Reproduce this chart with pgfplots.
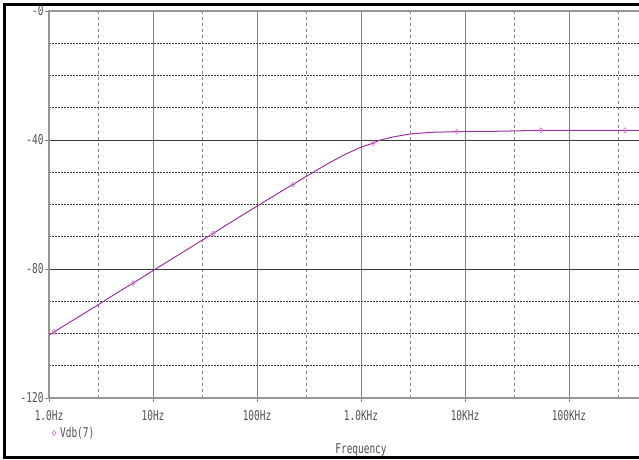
\documentclass[border=0pt]{standalone}
\usepackage{fontspec}
\setmainfont{DejaVu Sans Mono}[FakeStretch=0.7]
\usepackage{pgfplots}
\pgfplotsset{compat=1.18}
\definecolor{trace}{RGB}{160,50,160}
\definecolor{tracemark}{RGB}{215,120,215}
\definecolor{labelgray}{RGB}{80,80,80}
\definecolor{boxgray}{RGB}{150,150,150}
\definecolor{decgray}{RGB}{130,130,130}
\definecolor{majgray}{RGB}{60,60,60}

% Vdb(7) response, frequency in Hz
\pgfplotstableread{
f        vdb
1        -100.5
1.12     -99.5
2        -94.5
3        -91.0
5        -86.5
6.42     -84.4
10       -80.5
20       -74.5
30       -71.0
37.8     -69.0
50       -66.5
100      -60.5
200      -54.6
222      -53.8
300      -51.2
500      -47.0
700      -44.5
1000     -42.2
1304     -41.0
1500     -40.1
2000     -39.1
3000     -38.1
5000     -37.6
8375     -37.4
20000    -37.3
53800    -37.0
100000   -37.0
345000   -37.0
1000000  -37.0
}\vdbdata

% marker positions along the trace
\pgfplotstableread{
f        vdb
1.12     -99.5
6.42     -84.4
37.8     -69.0
222      -53.8
1304     -41.0
8375     -37.4
53800    -37.0
345000   -37.0
}\vdbmarks

\begin{document}
\begin{tikzpicture}[x=1pt,y=1pt]
\useasboundingbox (0,0) rectangle (639,459);
\clip (0,0) rectangle (639,459);
\begin{axis}[
  at={(49pt,61pt)}, anchor=south west,
  scale only axis, width=624pt, height=387pt,
  xmode=log, xmin=1, xmax=1e6, ymin=-120, ymax=0,
  xtick={1,10,100,1000,10000,100000,1000000},
  xticklabels={1.0Hz,10Hz,100Hz,1.0KHz,10KHz,100KHz,},
  minor xtick={3,30,300,3000,30000,300000},
  ytick={-120,-80,-40,0},
  yticklabels={-120,-80,-40,-0},
  minor ytick={-110,-100,-90,-70,-60,-50,-30,-20,-10},
  xtick pos=left, ytick pos=left,
  tick align=outside, major tick length=4pt, minor tick length=0pt,
  tick style={decgray, line width=0.8pt},
  axis line style={boxgray, line width=1.2pt},
  grid=both,
  major x grid style={decgray, line width=0.8pt},
  minor x grid style={decgray, line width=0.8pt, dash pattern=on 3pt off 3pt},
  major y grid style={majgray, line width=0.9pt},
  minor y grid style={majgray, line width=0.8pt, dash pattern=on 1.5pt off 1.5pt},
  ticklabel style={font=\fontsize{13.5}{14}\selectfont, text=labelgray},
  yticklabel style={anchor=east, xshift=2pt},
  xticklabel style={anchor=center, yshift=-14pt},
  xlabel={Frequency},
  xlabel style={at={(axis description cs:0.5,{-52/387})}, anchor=center,
    font=\fontsize{13.5}{14}\selectfont, text=labelgray},
  legend style={at={(axis description cs:{3/624},{-35/387})}, anchor=west,
    draw=none, fill=none, inner sep=0pt, outer sep=0pt,
    font=\fontsize{13.5}{14}\selectfont, text=labelgray},
  legend cell align=left,
  legend image code/.code={\draw[#1, only marks] plot coordinates {(0pt,0pt)};
    \path (4pt,0pt);},
]
\addplot[trace, line width=1pt, forget plot] table[x=f, y=vdb] {\vdbdata};
\addplot[only marks, mark=diamond, mark size=2.6pt,
  mark options={draw=tracemark, fill=white, line width=0.6pt}]
  table[x=f, y=vdb] {\vdbmarks};
\legend{Vdb(7)}
\end{axis}
% window frame
\draw[black, line width=3pt] (640,454) -- (4,454) -- (4,1.5) -- (640,1.5);
\end{tikzpicture}
\end{document}
